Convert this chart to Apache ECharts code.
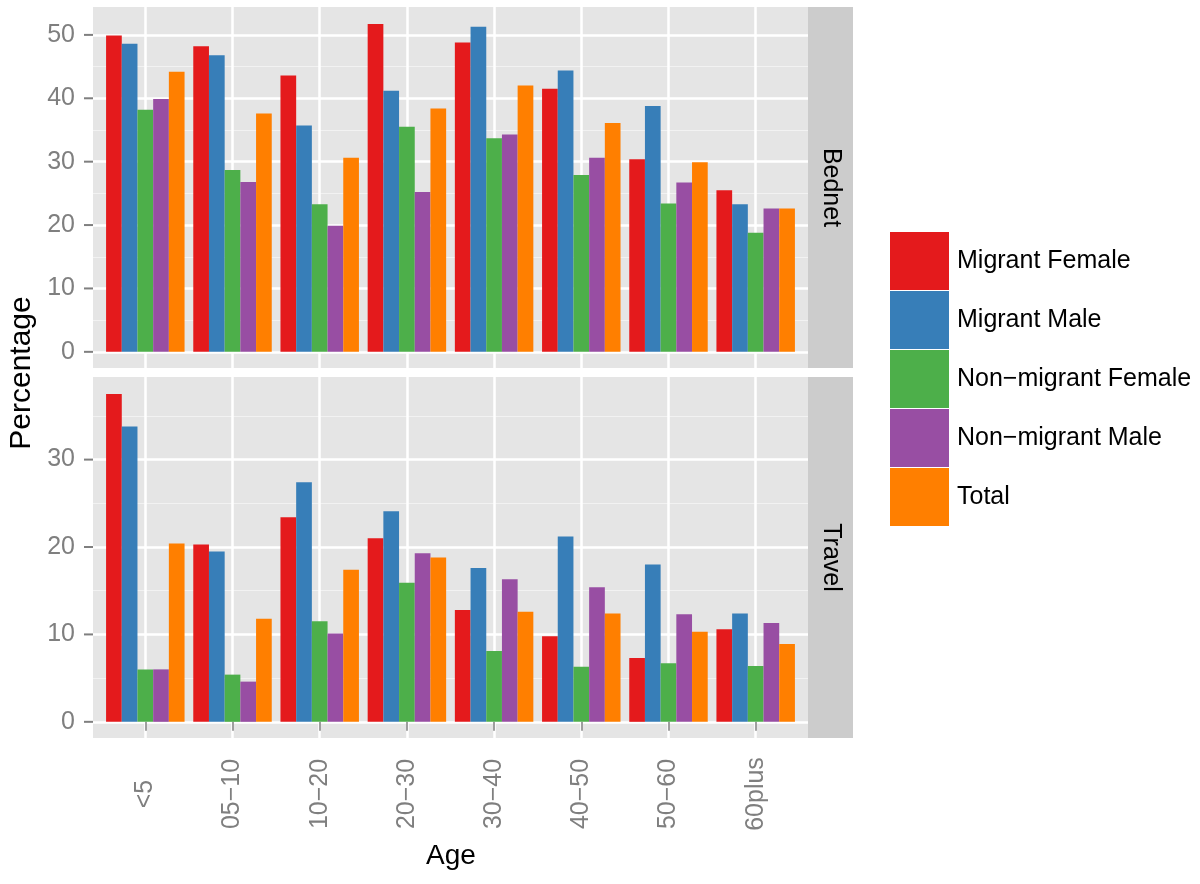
<!DOCTYPE html>
<html>
<head>
<meta charset="utf-8">
<script src="https://cdn.jsdelivr.net/npm/echarts@6/dist/echarts.min.js"></script>
<style>html,body{margin:0;padding:0;background:#fff}#c{width:1200px;height:884px}</style>
</head>
<body>
<div id="c"></div>
<script>
const ages = ['<5', '05−10', '10−20', '20−30', '30−40', '40−50', '50−60', '60plus'];
const seriesNames = ['Migrant Female', 'Migrant Male', 'Non−migrant Female', 'Non−migrant Male', 'Total'];
const colors = ['#E41A1C', '#377EB8', '#4DAF4A', '#984EA3', '#FF7F00'];
const panels = ['Bednet', 'Travel'];

// Bednet panel
const bednetMigrantFemale    = [49.9, 48.2, 43.6, 51.7, 48.8, 41.5, 30.4, 25.5];
const bednetMigrantMale      = [48.6, 46.8, 35.7, 41.2, 51.3, 44.4, 38.8, 23.3];
const bednetNonMigrantFemale = [38.2, 28.7, 23.3, 35.5, 33.7, 27.9, 23.4, 18.8];
const bednetNonMigrantMale   = [39.9, 26.8, 19.9, 25.2, 34.3, 30.6, 26.7, 22.6];
const bednetTotal            = [44.2, 37.6, 30.6, 38.4, 42.0, 36.1, 29.9, 22.6];

// Travel panel
const travelMigrantFemale    = [37.5, 20.3, 23.4, 21.0, 12.8, 9.8, 7.3, 10.6];
const travelMigrantMale      = [33.8, 19.5, 27.4, 24.1, 17.6, 21.2, 18.0, 12.4];
const travelNonMigrantFemale = [6.0, 5.4, 11.5, 15.9, 8.1, 6.3, 6.7, 6.4];
const travelNonMigrantMale   = [6.0, 4.6, 10.1, 19.3, 16.3, 15.4, 12.3, 11.3];
const travelTotal            = [20.4, 11.8, 17.4, 18.8, 12.6, 12.4, 10.3, 8.9];

const bednetData = [bednetMigrantFemale, bednetMigrantMale, bednetNonMigrantFemale, bednetNonMigrantMale, bednetTotal];
const travelData = [travelMigrantFemale, travelMigrantMale, travelNonMigrantFemale, travelNonMigrantMale, travelTotal];

const FONT = '"Liberation Sans", Arial, Helvetica, sans-serif';
const GREY = '#7F7F7F';
const panelBg = '#E5E5E5';

const topRange = [-2.55, 54.4];
const botRange = [-1.85, 39.45];

const P = {left: 93, width: 715, height: 361, top1: 7, top2: 377};
const unit = P.width / (ages.length - 1 + 1.2);
const barLeft = P.left + 0.6 * unit - unit / 2;
const barWidthGrid = unit * ages.length;

function bgX(gi) {
  return {
    gridIndex: gi, type: 'value', min: -0.6, max: ages.length - 1 + 0.6, splitNumber: ages.length,
    axisLine: {show: false}, axisTick: {show: false}, axisLabel: {show: false},
    splitLine: {show: true, showMinLine: false, showMaxLine: false, lineStyle: {color: '#FFFFFF', width: 2.5}}
  };
}
function valY(gi, r) {
  return {
    gridIndex: gi, type: 'value', min: r[0], max: r[1],
    axisLine: {show: false}, axisTick: {show: false},
    axisLabel: {
      show: true, margin: 0, showMinLabel: false, showMaxLabel: false,
      formatter: v => '{v|' + v + '}{t|}',
      rich: {
        v: {fontSize: 25, color: GREY, fontFamily: FONT, padding: [0, 9, 0, 0], verticalAlign: 'middle'},
        t: {width: 9, height: 2, backgroundColor: GREY, verticalAlign: 'middle'}
      }
    },
    splitLine: {show: true, showMinLine: false, showMaxLine: false, lineStyle: {color: '#FFFFFF', width: 2.5}},
    minorTick: {show: false, splitNumber: 2},
    minorSplitLine: {show: true, lineStyle: {color: '#F2F2F2', width: 1.2}}
  };
}
function hidY(gi, r) {
  return {gridIndex: gi, type: 'value', min: r[0], max: r[1], show: false};
}
function catX(gi, withLabels) {
  return {
    gridIndex: gi, type: 'category', data: ages,
    axisLine: {show: false},
    axisTick: {show: withLabels, alignWithLabel: true, length: 9, lineStyle: {color: GREY, width: 1.5}},
    axisLabel: {show: withLabels, rotate: 90, align: 'center', verticalAlign: 'middle', margin: 56,
      fontSize: 25, color: GREY, fontFamily: FONT, interval: 0},
    splitLine: {show: false}
  };
}

const series = [];
[bednetData, travelData].forEach((panel, p) => {
  panel.forEach((vals, i) => {
    series.push({
      type: 'bar', name: seriesNames[i], data: vals,
      xAxisIndex: p * 2 + 1, yAxisIndex: p * 2 + 1,
      barGap: '0%', barCategoryGap: '10%',
      itemStyle: {color: colors[i]}
    });
  });
});

const stripX = P.left + P.width;
const stripW = 45;
const graphic = [];
[P.top1, P.top2].forEach((t, i) => {
  graphic.push({type: 'rect', left: stripX, top: t, shape: {width: stripW, height: P.height}, style: {fill: '#CCCCCC'}, silent: true});
  graphic.push({type: 'text', x: stripX + stripW / 2, y: t + P.height / 2, rotation: -Math.PI / 2,
    style: {text: panels[i], fontSize: 25, fontFamily: FONT, fill: '#000', align: 'center', verticalAlign: 'middle'}});
});
graphic.push({type: 'text', x: 22, y: 373, rotation: Math.PI / 2,
  style: {text: 'Percentage', fontSize: 30, fontFamily: FONT, fill: '#000', align: 'center', verticalAlign: 'middle'}});
graphic.push({type: 'text', x: 451, y: 856,
  style: {text: 'Age', fontSize: 28, fontFamily: FONT, fill: '#000', align: 'center', verticalAlign: 'middle'}});

const option = {
  animation: false,
  backgroundColor: '#FFFFFF',
  textStyle: {fontFamily: FONT},
  legend: {
    orient: 'vertical', left: 890, top: 232, padding: 0,
    itemWidth: 59, itemHeight: 58, itemGap: 1, icon: 'rect', selectedMode: false,
    data: seriesNames,
    textStyle: {fontSize: 25, color: '#000', fontFamily: FONT, padding: [4, 0, 0, 3]}
  },
  grid: [
    {left: P.left, top: P.top1, width: P.width, height: P.height, show: true, backgroundColor: panelBg, borderWidth: 0, outerBoundsMode: 'none', containLabel: false},
    {left: barLeft, top: P.top1, width: barWidthGrid, height: P.height, outerBoundsMode: 'none', containLabel: false},
    {left: P.left, top: P.top2, width: P.width, height: P.height, show: true, backgroundColor: panelBg, borderWidth: 0, outerBoundsMode: 'none', containLabel: false},
    {left: barLeft, top: P.top2, width: barWidthGrid, height: P.height, outerBoundsMode: 'none', containLabel: false}
  ],
  xAxis: [bgX(0), catX(1, false), bgX(2), catX(3, true)],
  yAxis: [valY(0, topRange), hidY(1, topRange), valY(2, botRange), hidY(3, botRange)],
  series: series,
  graphic: graphic
};

const chart = echarts.init(document.getElementById('c'), null, {renderer: 'canvas'});
chart.setOption(option);
</script>
</body>
</html>
